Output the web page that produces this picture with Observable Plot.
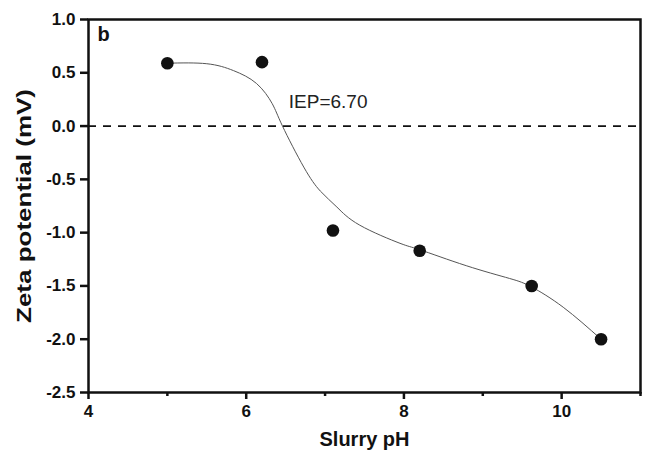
<!DOCTYPE html>
<html><head><meta charset="utf-8">
<script src="https://cdn.jsdelivr.net/npm/d3@7"></script>
<script src="https://cdn.jsdelivr.net/npm/@observablehq/plot@0.6"></script>
<style>body{margin:0;background:#fff}</style>
</head><body><div id="chart"></div>
<script>
// Measured points
const slurryPH = [5.0, 6.2, 7.1, 8.2, 9.62, 10.5];
const zetaMV = [0.59, 0.60, -0.98, -1.17, -1.50, -2.00];
// Fitted curve
const fitPH = [5.0, 5.5, 5.84, 6.13, 6.33, 6.46, 6.73, 6.94, 7.15, 7.44, 7.95, 8.2, 8.79, 9.34, 9.62, 10.02, 10.5];
const fitZeta = [0.59, 0.585, 0.52, 0.40, 0.21, 0.0, -0.385, -0.61, -0.76, -0.93, -1.10, -1.16, -1.31, -1.43, -1.51, -1.70, -2.0];
// Ticks
const xMajorTicks = [4, 6, 8, 10];
const xMinorTicks = [5, 7, 9, 11];
const yTicks = [1.0, 0.5, 0.0, -0.5, -1.0, -1.5, -2.0, -2.5];
const panelLabel = "b";
const iepLabel = [{x: 6.54, y: 0.23, text: "IEP=6.70"}];
const xTitle = "Slurry pH";
const yTitle = "Zeta potential (mV)";

const points = slurryPH.map((x, i) => ({x, y: zetaMV[i]}));
const fit = fitPH.map((x, i) => ({x, y: fitZeta[i]}));

const chart = Plot.plot({
  width: 648, height: 454,
  marginLeft: 88, marginRight: 8, marginTop: 19, marginBottom: 62,
  x: {domain: [4, 11]},
  y: {domain: [-2.5, 1.0]},
  style: {fontFamily: "'Liberation Sans', Arial, sans-serif", background: "#fff", color: "#111"},
  marks: [
    Plot.ruleY([0], {stroke: "#111", strokeWidth: 1.8, strokeDasharray: "8,7"}),
    Plot.line(fit, {x: "x", y: "y", curve: "natural", stroke: "#555", strokeWidth: 1}),
    Plot.dot(points, {x: "x", y: "y", r: 6.3, fill: "#111", stroke: "none"}),
    Plot.frame({stroke: "#111", strokeWidth: 2.5}),
    Plot.axisX({ticks: xMajorTicks, tickSize: 7, tickPadding: 5, stroke: "#111", strokeWidth: 2.5, fontSize: 17, fontWeight: "bold", label: null, tickFormat: d => String(d)}),
    Plot.axisX({ticks: xMinorTicks, tickSize: 4, stroke: "#111", strokeWidth: 2.5, tickFormat: () => "", label: null}),
    Plot.axisY({ticks: yTicks, tickSize: 8, tickPadding: 5, stroke: "#111", strokeWidth: 2.5, fontSize: 17, fontWeight: "bold", label: null, tickFormat: d => d.toFixed(1)}),
    Plot.text([panelLabel], {frameAnchor: "top-left", dx: 9, dy: 7, text: d => d, textAnchor: "start", lineAnchor: "top", fontSize: 20, fontWeight: "bold"}),
    Plot.text(iepLabel, {x: "x", y: "y", text: "text", textAnchor: "start", fontSize: 19, fill: "#222"}),
    Plot.text([xTitle], {frameAnchor: "bottom", dy: 53, text: d => d, textAnchor: "middle", fontSize: 20, fontWeight: "bold"}),
    Plot.text([yTitle], {frameAnchor: "left", dx: -64, text: d => d, textAnchor: "middle", rotate: -90, fontSize: 20, fontWeight: "bold"})
  ]
});
d3.select(chart).selectAll("text")
  .filter(function() { return this.textContent === yTitle; })
  .attr("textLength", 234)
  .attr("lengthAdjust", "spacingAndGlyphs");
document.getElementById("chart").appendChild(chart);
</script>
</body></html>
